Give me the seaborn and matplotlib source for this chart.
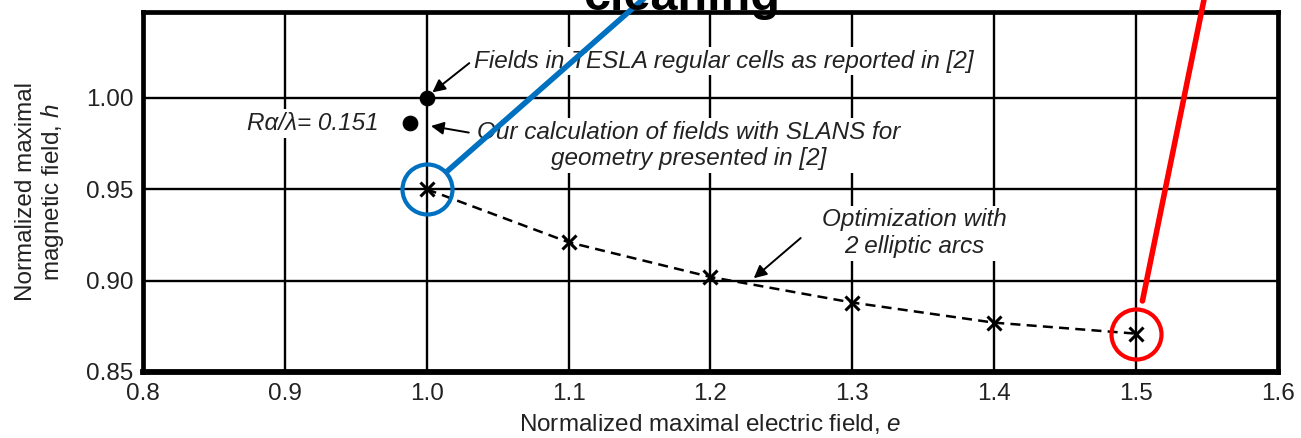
import seaborn as sns
import matplotlib.pyplot as plt
import pandas as pd

# optimized cells (2 elliptic arcs)
e_opt = [1.0, 1.1, 1.2, 1.3, 1.4, 1.5]
h_opt = [0.950, 0.921, 0.902, 0.888, 0.877, 0.871]

# TESLA reference points
e_ref = [1.0, 0.988]
h_ref = [1.000, 0.986]

# highlighted points
e_mark = [1.0, 1.5]
h_mark = [0.950, 0.871]
mark_colors = ["#0070C0", "#FF0000"]

x_ticks = [0.8, 0.9, 1.0, 1.1, 1.2, 1.3, 1.4, 1.5, 1.6]
y_ticks = [0.85, 0.90, 0.95, 1.00]

sns.set_style("white")
plt.rcParams["font.family"] = ["Liberation Sans", "DejaVu Sans"]
plt.rcParams["mathtext.fontset"] = "custom"
plt.rcParams["mathtext.it"] = "Liberation Sans:italic"
plt.rcParams["mathtext.rm"] = "Liberation Sans"

df_opt = pd.DataFrame({"e": e_opt, "h": h_opt})
df_ref = pd.DataFrame({"e": e_ref, "h": h_ref})

fig = plt.figure(figsize=(13.01, 4.38), dpi=100)
ax = fig.add_axes([0.110, 0.1507, 0.872, 0.822])

sns.lineplot(data=df_opt, x="e", y="h", ax=ax, color="black", lw=1.8,
             linestyle=(0, (4, 2.5)), marker="x", markersize=10,
             markeredgewidth=2.2, markeredgecolor="black", zorder=4)
sns.scatterplot(data=df_ref, x="e", y="h", ax=ax, color="black", s=110,
                edgecolor="black", zorder=4)

ax.set_xlim(0.8, 1.6)
ax.set_ylim(0.85, 1.047)
ax.set_xticks(x_ticks)
ax.set_yticks(y_ticks)
ax.set_xticklabels([f"{v:.1f}" for v in x_ticks])
ax.set_yticklabels([f"{v:.2f}" for v in y_ticks])
ax.tick_params(length=0, labelsize=17.5, colors="#222222")
ax.tick_params(axis="y", pad=7)
ax.tick_params(axis="x", pad=8)
ax.grid(True, color="black", lw=1.7, zorder=0)
ax.set_axisbelow(True)
for s in ax.spines.values():
    s.set_linewidth(3.4)
    s.set_color("black")
ax.spines["bottom"].set_linewidth(4.2)

ax.set_xlabel("Normalized maximal electric field, $e$", fontsize=17.5,
              color="#222222", labelpad=5)
ax.set_ylabel("Normalized maximal\nmagnetic field, $h$", fontsize=17.5,
              color="#222222", labelpad=14, linespacing=1.1)

box = dict(facecolor="white", edgecolor="none", pad=2)
arrow = dict(arrowstyle="-|>", color="black", lw=1.4, mutation_scale=19,
             shrinkA=0, shrinkB=0)
tfont = dict(fontsize=17.5, style="italic", color="#222222")

ax.text(1.033, 1.020, "Fields in TESLA regular cells as reported in [2]",
        ha="left", va="center", bbox=box, zorder=3, **tfont)
ax.annotate("", xy=(1.004, 1.003), xytext=(1.030, 1.019),
            arrowprops=arrow, zorder=5)

ax.text(0.966, 0.986, "Rα/λ= 0.151", ha="right", va="center",
        bbox=box, zorder=3, **tfont)

ax.text(1.185, 0.974,
        "Our calculation of fields with SLANS for\ngeometry presented in [2]",
        ha="center", va="center", bbox=box, zorder=3, linespacing=1.2,
        **tfont)
ax.annotate("", xy=(1.003, 0.9846), xytext=(1.0297, 0.981),
            arrowprops=arrow, zorder=5)

ax.text(1.344, 0.926, "Optimization with\n2 elliptic arcs", ha="center",
        va="center", bbox=box, zorder=3, linespacing=1.2, **tfont)
ax.annotate("", xy=(1.2306, 0.9013), xytext=(1.2637, 0.9233),
            arrowprops=arrow, zorder=5)

# highlight circles and pointer lines
for ex, hy, c, tip, shr in zip(e_mark, h_mark, mark_colors,
                               [(665, -20), (1208, -20)], [19, 24]):
    ax.plot([ex], [hy], marker="o", markersize=36, markerfacecolor="none",
            markeredgecolor=c, markeredgewidth=3, zorder=6, clip_on=False)
    ax.annotate("", xy=(ex, hy), xycoords="data",
                xytext=(tip[0] / 1301, 1 - tip[1] / 438),
                textcoords="figure fraction",
                arrowprops=dict(arrowstyle="-", color=c, lw=4,
                                shrinkA=0, shrinkB=shr),
                zorder=7, annotation_clip=False)

fig.text(682 / 1301, 1 - 10 / 438, "cleaning", ha="center", va="baseline",
         fontsize=35, weight="bold", color="black", zorder=8)

fig.savefig("out.png", dpi=100)
plt.close(fig)
